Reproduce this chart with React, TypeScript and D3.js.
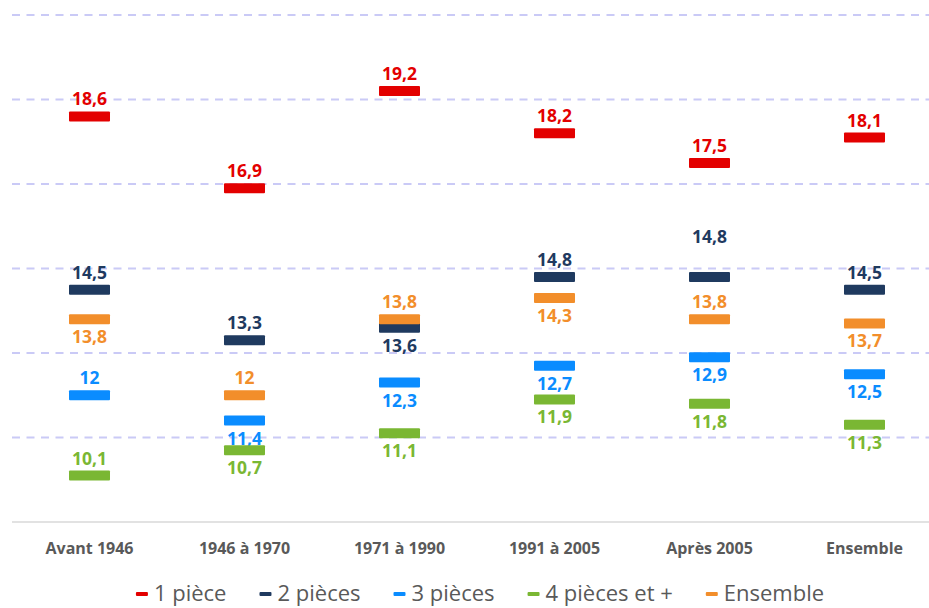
import React from "react";
import * as d3 from "d3";

const categories = ["Avant 1946", "1946 à 1970", "1971 à 1990", "1991 à 2005", "Après 2005", "Ensemble"];
const seriesNames = ["1 pièce", "2 pièces", "3 pièces", "4 pièces et +", "Ensemble"];
const piece1 = [18.6, 16.9, 19.2, 18.2, 17.5, 18.1];
const piece2 = [14.5, 13.3, 13.6, 14.8, 14.8, 14.5];
const piece3 = [12, 11.4, 12.3, 12.7, 12.9, 12.5];
const piece4 = [10.1, 10.7, 11.1, 11.9, 11.8, 11.3];
const ensemble = [13.8, 12, 13.8, 14.3, 13.8, 13.7];
const yTicks = [11, 13, 15, 17, 19, 21];

// label placement per series (a = above, b = below, f = far above)
const place1 = ["a", "a", "a", "a", "a", "a"];
const place2 = ["a", "a", "b", "a", "f", "a"];
const place3 = ["a", "b", "b", "b", "b", "b"];
const place4 = ["a", "b", "b", "b", "b", "b"];
const placeE = ["b", "a", "a", "b", "a", "b"];

const colors = ["#e30000", "#1f3a5f", "#0a8cff", "#7ab733", "#f28e2b"];
const seriesValues = [piece1, piece2, piece3, piece4, ensemble];
const placements = [place1, place2, place3, place4, placeE];

const W = 929;
const H = 608;
const FONT = "'Open Sans', sans-serif";

function measure(text: string, font: string) {
  const c = document.createElement("canvas").getContext("2d");
  if (!c) return text.length * 10;
  c.font = font;
  return c.measureText(text).width;
}

export default function App() {
  const x = d3.scaleBand<string>().domain(categories).range([12, 942]);
  const y = d3.scaleLinear().domain([9, 21]).range([522, 15]);
  const barW = 41;
  const barH = 10;

  const legendFontSize = 22;
  const legendFont = `${legendFontSize}px 'Open Sans'`;
  const mark = 12, gap1 = 6, gap2 = 33;
  const widths = seriesNames.map((n) => mark + gap1 + measure(n, legendFont));
  const total = d3.sum(widths) + gap2 * (seriesNames.length - 1);
  let lx = 480 - total / 2;
  const legendX = widths.map((w) => {
    const s = lx;
    lx += w + gap2;
    return s;
  });

  const dyFor = (p: string) => (p === "a" ? -11 : p === "f" ? -34 : 24);

  return (
    <svg width={W} height={H} style={{ position: "absolute", left: 0, top: 0, background: "#fff" }}>
      {yTicks.map((t) => (
        <line key={t} x1={12} x2={W} y1={y(t)} y2={y(t)} stroke="#cacaf6" strokeWidth={2} strokeDasharray="8,6.5" />
      ))}
      <line x1={12} x2={W} y1={y(9)} y2={y(9)} stroke="#d9d9d9" strokeWidth={1.5} />
      {categories.map((c) => (
        <text key={c} x={x(c)! + x.bandwidth() / 2} y={554} textAnchor="middle" fontFamily={FONT} fontWeight={700} fontSize={16} fill="#595959">
          {c}
        </text>
      ))}
      {seriesValues.map((vals, si) => (
        <g key={si}>
          {vals.map((v, i) => {
            const cx = x(categories[i])! + x.bandwidth() / 2;
            const cy = y(v);
            return (
              <g key={i}>
                <rect x={cx - barW / 2} y={cy - barH / 2} width={barW} height={barH} rx={1} fill={colors[si]} />
                <text x={cx} y={cy + dyFor(placements[si][i])} textAnchor="middle" fontFamily={FONT} fontWeight={700} fontSize={17.5} fill={colors[si]}>
                  {String(v).replace(".", ",")}
                </text>
              </g>
            );
          })}
        </g>
      ))}
      {seriesNames.map((n, i) => (
        <g key={n} transform={`translate(${legendX[i]},594)`}>
          <rect x={0} y={-2} width={mark} height={4} rx={1} fill={colors[i]} />
          <text x={mark + gap1} y={7} fontFamily={FONT} fontSize={legendFontSize} fill="#595959">
            {n}
          </text>
        </g>
      ))}
    </svg>
  );
}
